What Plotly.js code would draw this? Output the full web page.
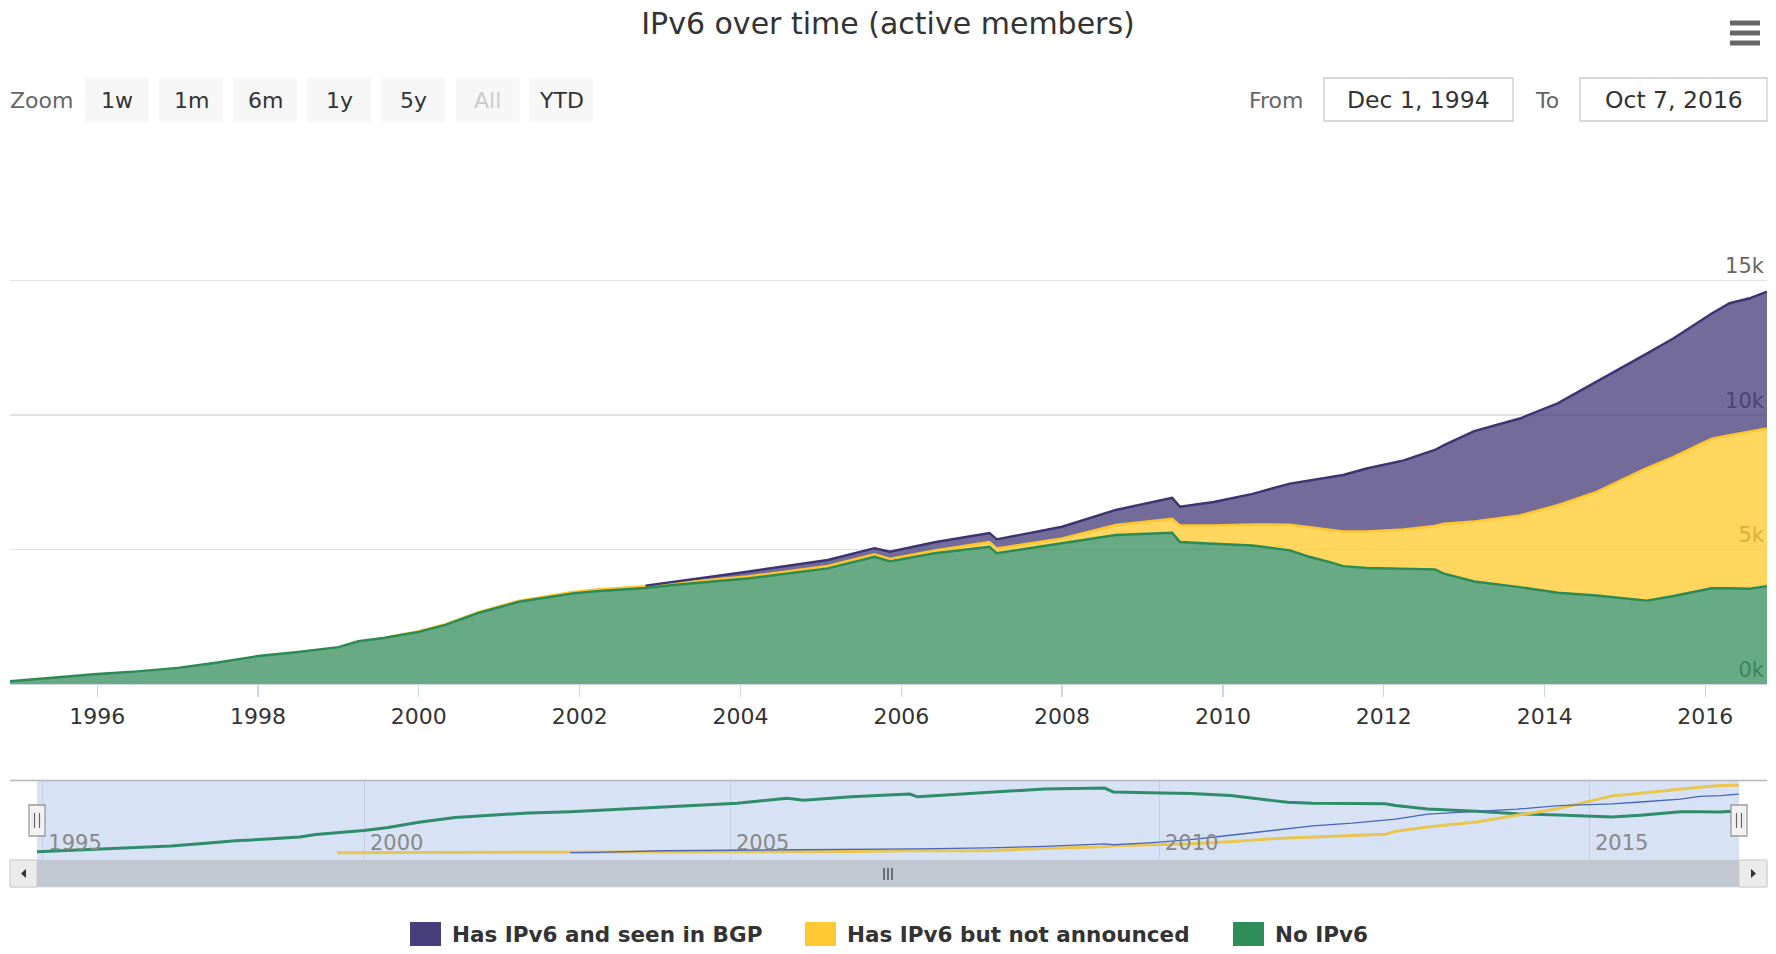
<!DOCTYPE html>
<html>
<head>
<meta charset="utf-8">
<script src="https://cdn.plot.ly/plotly-3.0.1.min.js"></script>
<style>
  html, body { margin: 0; padding: 0; background: #fff; }
  #chart { width: 1776px; height: 954px; }
</style>
</head>
<body>
<div id="chart"></div>
<script>
/* ── IPv6 over time (active members) — stacked areas + navigator ── */

const dates = [
  '1994-12-01', '1995-06-01', '1996-01-01', '1996-07-01', '1997-01-01', '1997-07-01',
  '1998-01-01', '1998-07-01', '1999-01-01', '1999-04-01', '1999-08-01', '2000-01-01',
  '2000-05-01', '2000-10-01', '2001-04-01', '2001-12-01', '2002-04-01', '2002-10-27',
  '2003-03-01', '2004-02-01', '2005-02-01', '2005-09-01', '2005-11-10', '2006-06-01',
  '2007-02-05', '2007-03-10', '2008-01-01', '2008-09-01', '2009-05-15', '2009-06-20',
  '2009-11-20', '2010-05-15', '2010-11-01', '2011-02-01', '2011-05-01', '2011-07-01',
  '2011-10-15', '2012-04-01', '2012-08-20', '2012-10-01', '2013-02-15', '2013-09-10',
  '2014-03-01', '2014-08-25', '2015-02-15', '2015-04-10', '2015-08-10', '2016-01-30',
  '2016-04-20', '2016-07-20', '2016-10-07'
];

const noIpv6 = [
  100, 230, 370, 470, 600, 800,
  1040, 1190, 1370, 1590, 1720, 1940,
  2200, 2650, 3060, 3370, 3460, 3570,
  3680, 3920, 4300, 4730, 4560, 4860,
  5100, 4860, 5230, 5540, 5620, 5280,
  5215, 5150, 4970, 4720, 4530, 4380,
  4310, 4280, 4260, 4100, 3810, 3600,
  3390, 3290, 3140, 3100, 3270, 3560,
  3560, 3540, 3640
];

const notAnnounced = [
  null, null, null, null, null, null,
  null, null, null, null, 15, 20,
  25, 30, 40, 50, 60, 70,
  70, 75, 90, 90, 90, 110,
  180, 180, 185, 370, 520, 610,
  680, 780, 955, 1115, 1220, 1290,
  1365, 1465, 1615, 1860, 2235, 2670,
  3255, 3850, 4680, 4930, 5175, 5560,
  5690, 5835, 5860
];

const inBgp = [
  null, null, null, null, null, null,
  null, null, null, null, null, null,
  null, null, null, null, null, 15,
  40, 180, 220, 230, 270, 300,
  335, 338, 430, 560, 780, 700,
  870, 1140, 1525, 1740, 1950, 2100,
  2335, 2570, 2825, 2920, 3355, 3600,
  3790, 4095, 4220, 4250, 4410, 4655,
  4905, 4965, 5090
];

const seriesNames = ['Has IPv6 and seen in BGP', 'Has IPv6 but not announced', 'No IPv6'];
const navYearTicks = [1995, 2000, 2005, 2010, 2015];
const zoomButtons = ['1w', '1m', '6m', '1y', '5y', 'All', 'YTD'];
const rangeFrom = 'Dec 1, 1994';
const rangeTo = 'Oct 7, 2016';

const W = 1776, H = 954;
const FONT = 'DejaVu Sans, Verdana, sans-serif';
const px = x => x / W;
const py = y => 1 - y / H;

const COLORS = {
  bgp:  { line: '#3b3472', fill: 'rgba(68, 59, 120, 0.75)', nav: '#4a66b8', key: '#463f7c' },
  ann:  { line: '#ffc52a', fill: 'rgba(255, 200, 40, 0.75)', nav: '#e9c552', key: '#ffc933' },
  none: { line: '#2b8a55', fill: 'rgba(52, 142, 91, 0.75)', nav: '#2f8c6a', key: '#2f8d5a' },
};

// navigator axis is ordinal in Highstock, so years are not evenly spread there
const NAV_STOPS = [[1994.917, 37], [2000, 364], [2005, 730], [2010, 1159], [2015, 1589], [2016.767, 1739]];

function decYear(s) {
  const d = new Date(s + 'T00:00:00Z');
  const y = d.getUTCFullYear();
  const a = Date.UTC(y, 0, 1), b = Date.UTC(y + 1, 0, 1);
  return y + (d.getTime() - a) / (b - a);
}

function navX(t) {
  const v = typeof t === 'number' ? t : decYear(t);
  for (let i = 1; i < NAV_STOPS.length; i++) {
    const [t0, p0] = NAV_STOPS[i - 1], [t1, p1] = NAV_STOPS[i];
    if (v <= t1 || i === NAV_STOPS.length - 1) return p0 + (v - t0) / (t1 - t0) * (p1 - p0);
  }
}

function present(vals) {
  return vals.map((v, i) => (v == null ? -1 : i)).filter(i => i >= 0);
}

// running top edge of each stacked layer, only where that layer exists
const layers = [noIpv6, notAnnounced, inBgp];
const tops = layers.map((vals, k) => vals.map((v, i) => {
  if (v == null) return null;
  return layers.slice(0, k + 1).reduce((s, arr) => s + (arr[i] || 0), 0);
}));

function fillTrace(vals, c) {
  const idx = present(vals);
  return {
    type: 'scatter', mode: 'lines',
    x: idx.map(i => dates[i]), y: idx.map(i => vals[i]),
    stackgroup: 'members', line: { width: 0, color: c.fill }, fillcolor: c.fill,
    xaxis: 'x', yaxis: 'y', showlegend: false, hoverinfo: 'skip',
  };
}

function edgeTrace(vals, c) {
  const idx = present(vals);
  return {
    type: 'scatter', mode: 'lines',
    x: idx.map(i => dates[i]), y: idx.map(i => vals[i]),
    line: { color: c.line, width: 2.4 },
    xaxis: 'x', yaxis: 'y', showlegend: false, hoverinfo: 'skip',
  };
}

function navTrace(vals, c, w) {
  const idx = present(vals);
  return {
    type: 'scatter', mode: 'lines',
    x: idx.map(i => navX(dates[i])), y: idx.map(i => vals[i]),
    line: { color: c.nav, width: w },
    xaxis: 'x2', yaxis: 'y2', showlegend: false, hoverinfo: 'skip',
  };
}

// edge order: the green edge sits over the thin yellow band, purple edge on top
const data = [
  fillTrace(noIpv6, COLORS.none),
  fillTrace(notAnnounced, COLORS.ann),
  fillTrace(inBgp, COLORS.bgp),
  edgeTrace(tops[1], COLORS.ann),
  edgeTrace(tops[0], COLORS.none),
  edgeTrace(tops[2], COLORS.bgp),
  navTrace(noIpv6, COLORS.none, 3),
  navTrace(notAnnounced, COLORS.ann, 3),
  navTrace(inBgp, COLORS.bgp, 1.3),
];

/* ── chrome: toolbar, navigator furniture, legend ── */
const shapes = [];
const annotations = [];

function box(x0, y0, x1, y1, fill, line, lw, layer) {
  shapes.push({
    type: 'rect', xref: 'paper', yref: 'paper',
    x0: px(x0), x1: px(x1), y0: py(y1), y1: py(y0),
    fillcolor: fill, line: { color: line || fill, width: lw || 0 }, layer: layer || 'above',
  });
}
function seg(x0, y0, x1, y1, color, width) {
  shapes.push({
    type: 'line', xref: 'paper', yref: 'paper',
    x0: px(x0), x1: px(x1), y0: py(y0), y1: py(y1),
    line: { color, width },
  });
}
function label(text, x, y, opts) {
  annotations.push(Object.assign({
    text, xref: 'paper', yref: 'paper', x: px(x), y: py(y),
    xanchor: 'left', yanchor: 'middle', showarrow: false,
    font: { family: FONT, size: 22, color: '#333' },
  }, opts || {}));
}

// zoom buttons
label('Zoom', 8, 100, { font: { family: FONT, size: 22, color: '#666' } });
zoomButtons.forEach((b, i) => {
  const x0 = 85 + i * 74.1;
  box(x0, 78, x0 + 64, 122, '#f7f7f7');
  label(b, x0 + 32, 100, { xanchor: 'center', font: { family: FONT, size: 22, color: b === 'All' ? '#cccccc' : '#333' } });
});

// from / to inputs
label('From', 1247, 100, { font: { family: FONT, size: 22, color: '#666' } });
box(1324, 78, 1513, 121, '#ffffff', '#cccccc', 1.3);
label(rangeFrom, 1418.5, 100, { xanchor: 'center', font: { family: FONT, size: 23.5, color: '#333' } });
label('To', 1533, 100, { font: { family: FONT, size: 22, color: '#666' } });
box(1580, 78, 1767, 121, '#ffffff', '#cccccc', 1.3);
label(rangeTo, 1673.5, 100, { xanchor: 'center', font: { family: FONT, size: 23.5, color: '#333' } });

// export menu icon
[23, 33, 43].forEach(y => seg(1730, y, 1760, y, '#666', 5));

// navigator
box(37, 781, 1739, 860, '#d7e3f4', null, 0, 'below');
seg(10, 780.5, 1767, 780.5, '#b8b8b8', 1.3);
[37, 1739].forEach(x => {
  box(x - 8, 805, x + 8, 836, '#f2f2f2', '#999999', 1.3);
  seg(x - 2.5, 813, x - 2.5, 828, '#666', 1.2);
  seg(x + 2.5, 813, x + 2.5, 828, '#666', 1.2);
});

// scrollbar
box(10, 860, 1767, 887, '#f2f2f2', '#dddddd', 1);
box(37, 860, 1739, 887, '#c1c8d2', '#c1c8d2', 0);
box(10, 860, 37, 887, '#ebebeb', '#cccccc', 1);
box(1739, 860, 1767, 887, '#ebebeb', '#cccccc', 1);
shapes.push({ type: 'path', xref: 'paper', yref: 'paper', fillcolor: '#333', line: { width: 0 },
  path: `M ${px(26)} ${py(869)} L ${px(21)} ${py(873.5)} L ${px(26)} ${py(878)} Z` });
shapes.push({ type: 'path', xref: 'paper', yref: 'paper', fillcolor: '#333', line: { width: 0 },
  path: `M ${px(1751)} ${py(869)} L ${px(1756)} ${py(873.5)} L ${px(1751)} ${py(878)} Z` });
[884, 888, 892].forEach(x => seg(x, 868, x, 880, '#333', 1.2));

// legend
const legendItems = [
  { name: seriesNames[0], color: COLORS.bgp.key, x: 410 },
  { name: seriesNames[1], color: COLORS.ann.key, x: 805 },
  { name: seriesNames[2], color: COLORS.none.key, x: 1233 },
];
legendItems.forEach(it => {
  box(it.x, 922, it.x + 31, 946, it.color);
  label(it.name, it.x + 40, 934, { font: { family: FONT, size: 21.5, color: '#333', weight: 'bold' } });
});

const layout = {
  width: W, height: H,
  margin: { l: 0, r: 0, t: 0, b: 0 },
  paper_bgcolor: '#ffffff',
  plot_bgcolor: 'rgba(0,0,0,0)',
  showlegend: false,
  font: { family: FONT, color: '#333' },
  title: {
    text: 'IPv6 over time (active members)',
    x: 0.5, xanchor: 'center', y: py(23), yanchor: 'middle',
    font: { family: FONT, size: 30, color: '#333' },
  },
  xaxis: {
    type: 'date', domain: [px(10), px(1767)], range: ['1994-12-01', '2016-10-07'], anchor: 'y',
    tick0: '1996-01-01', dtick: 'M24', tickformat: '%Y',
    ticks: 'outside', ticklen: 12, tickwidth: 1.3, tickcolor: '#ccd6eb',
    showline: true, linecolor: '#ccd6eb', linewidth: 1.3,
    showgrid: false, zeroline: false, fixedrange: true,
    tickfont: { family: FONT, size: 22, color: '#333' },
  },
  yaxis: {
    domain: [py(684), py(146)], range: [0, 20000], anchor: 'x', side: 'right',
    tickvals: [0, 5000, 10000, 15000, 20000], ticktext: ['0k', '5k', '10k', '15k', ''],
    ticklabelposition: 'inside top', ticks: '',
    showgrid: true, gridcolor: '#e2e2e2', gridwidth: 1.5,
    zeroline: false, showline: false, layer: 'below traces', fixedrange: true,
    tickfont: { family: FONT, size: 21, color: '#666' },
  },
  xaxis2: {
    domain: [px(37), px(1739)], range: [37, 1739], anchor: 'y2',
    tickvals: navYearTicks.map(y => navX(y)), ticktext: navYearTicks.map(String),
    ticks: '', ticklabelposition: 'inside right', ticklabelshift: 6,
    showgrid: true, gridcolor: '#c4cee0', gridwidth: 1,
    showline: false, zeroline: false, fixedrange: true,
    tickfont: { family: FONT, size: 21, color: '#888' },
  },
  yaxis2: {
    domain: [py(860), py(781)], range: [-625, 6233], anchor: 'x2',
    visible: false, showgrid: false, zeroline: false, fixedrange: true,
  },
  shapes,
  annotations,
};

Plotly.newPlot('chart', data, layout, { displayModeBar: false, staticPlot: true });
</script>
</body>
</html>
